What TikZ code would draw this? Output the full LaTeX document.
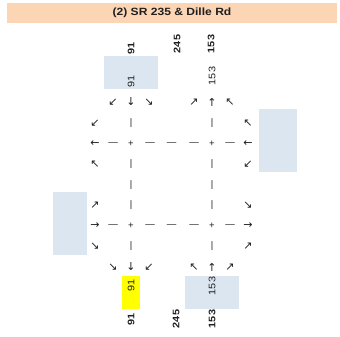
\documentclass[tikz,border=0pt]{standalone}
\usepackage{fontspec}
\setmainfont{Liberation Sans}
\newfontfamily\arrowfont{DejaVu Sans}
\definecolor{peach}{HTML}{FCD5B4}
\definecolor{lblue}{HTML}{DCE6F1}
\definecolor{hiyel}{HTML}{FFFF00}
\definecolor{ink}{HTML}{202020}
\newcommand{\wide}[1]{\scalebox{1.15}[1]{#1}}
\begin{document}
\begin{tikzpicture}[x=1pt,y=-1pt,
  every node/.style={inner sep=0pt,outer sep=0pt,text=ink},
  titlebar/.style={fill=peach,minimum width=330pt,minimum height=20pt,font=\fontsize{10.5}{11}\selectfont\bfseries},
  box/.style={fill=lblue,draw=none},
  ybox/.style={fill=hiyel,draw=none},
  outlbl/.style={rotate=90,font=\fontsize{9.5}{10}\selectfont\bfseries},
  inlbl/.style={rotate=90,font=\fontsize{9.5}{10}\selectfont},
  arr/.style={font=\fontsize{11}{11}\selectfont\arrowfont},
  glyph/.style={font=\fontsize{9.5}{10}\selectfont}
]
\useasboundingbox (0,0) rectangle (340,337);
\fill[white] (0,0) rectangle (340,337);

% title
\node[titlebar] (title) at (172,13) {\wide{(2) SR 235 \& Dille Rd}};

% shaded boxes
\fill[box] (104,56) rectangle (158,89);
\fill[box] (259,109) rectangle (297,172);
\fill[box] (53,192) rectangle (87,255);
\fill[box] (185,276) rectangle (239,309);
\fill[ybox] (122,276) rectangle (140,309);

% outer labels top
\node[outlbl] (t91) at (131,48) {\wide{91}};
\node[outlbl] (t245) at (177,44) {\wide{245}};
\node[outlbl] (t153) at (211,44) {\wide{153}};
% inner labels top
\node[inlbl] (i91) at (131,81) {\wide{91}};
\node[inlbl] (i153) at (212,76) {\wide{153}};
% inner labels bottom
\node[inlbl] (b91) at (131,285) {\wide{91}};
\node[inlbl] (b153) at (212,286) {\wide{153}};
% outer labels bottom
\node[outlbl] (o91) at (131,319) {\wide{91}};
\node[outlbl] (o245) at (176,319) {\wide{245}};
\node[outlbl] (o153) at (212,319) {\wide{153}};

% row 1 (y=102)
\node[arr] (a1) at (113,102) {↙};
\node[arr] (a2) at (131,102) {↓};
\node[arr] (a3) at (149,102) {↘};
\node[arr] (a4) at (194,102) {↗};
\node[arr] (a5) at (212,102) {↑};
\node[arr] (a6) at (230,102) {↖};

% row 2 (y=123)
\node[arr] (b1) at (95,123) {↙};
\node[glyph] (b2) at (131,123) {|};
\node[glyph] (b3) at (212,123) {|};
\node[arr] (b4) at (248,123) {↖};

% row 3 (y=144)
\node[arr] (c1) at (95,144) {←};
\node[glyph] (c2) at (113,144) {—};
\node[glyph] (c3) at (131,144) {+};
\node[glyph] (c4) at (150,144) {—};
\node[glyph] (c5) at (171.5,144) {—};
\node[glyph] (c6) at (194,144) {—};
\node[glyph] (c7) at (212,144) {+};
\node[glyph] (c8) at (230,144) {—};
\node[arr] (c9) at (248,144) {←};

% row 4 (y=164)
\node[arr] (d1) at (95,164) {↖};
\node[glyph] (d2) at (131,164) {|};
\node[glyph] (d3) at (212,164) {|};
\node[arr] (d4) at (248,164) {↙};

% row 5 (y=185)
\node[glyph] (e2) at (131,185) {|};
\node[glyph] (e3) at (212,185) {|};

% row 6 (y=205)
\node[arr] (f1) at (95,205) {↗};
\node[glyph] (f2) at (131,205) {|};
\node[glyph] (f3) at (212,205) {|};
\node[arr] (f4) at (248,205) {↘};

% row 7 (y=226)
\node[arr] (g1) at (95,226) {→};
\node[glyph] (g2) at (113,226) {—};
\node[glyph] (g3) at (131,226) {+};
\node[glyph] (g4) at (150,226) {—};
\node[glyph] (g5) at (171.5,226) {—};
\node[glyph] (g6) at (194,226) {—};
\node[glyph] (g7) at (212,226) {+};
\node[glyph] (g8) at (230,226) {—};
\node[arr] (g9) at (248,226) {→};

% row 8 (y=246)
\node[arr] (h1) at (95,246) {↘};
\node[glyph] (h2) at (131,246) {|};
\node[glyph] (h3) at (212,246) {|};
\node[arr] (h4) at (248,246) {↗};

% row 9 (y=267)
\node[arr] (k1) at (113,267) {↘};
\node[arr] (k2) at (131,267) {↓};
\node[arr] (k3) at (149,267) {↙};
\node[arr] (k4) at (194,267) {↖};
\node[arr] (k5) at (212,267) {↑};
\node[arr] (k6) at (230,267) {↗};
\end{tikzpicture}
\end{document}
